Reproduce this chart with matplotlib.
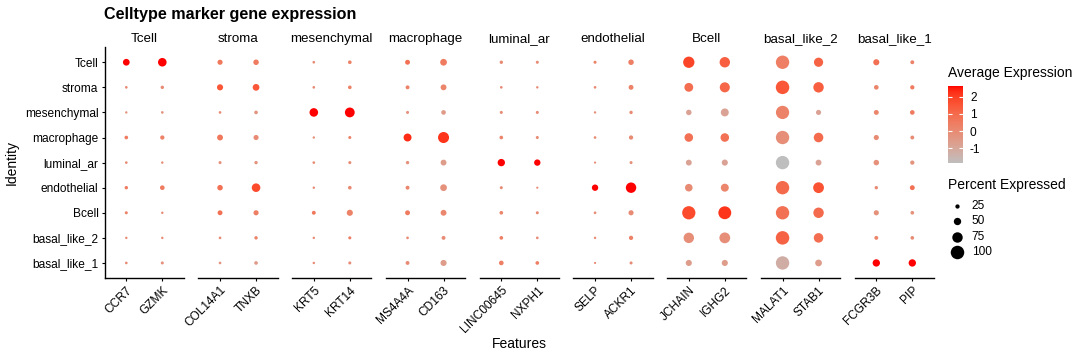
import numpy as np
import matplotlib
matplotlib.use("Agg")
import matplotlib.pyplot as plt
from matplotlib.colors import ListedColormap, Normalize
from matplotlib.cm import ScalarMappable

plt.rcParams['font.family'] = ['Liberation Sans', 'DejaVu Sans']
plt.rcParams['axes.unicode_minus'] = False

identities = ['Tcell', 'stroma', 'mesenchymal', 'macrophage', 'luminal_ar',
              'endothelial', 'Bcell', 'basal_like_2', 'basal_like_1']
groups = ['Tcell', 'stroma', 'mesenchymal', 'macrophage', 'luminal_ar',
          'endothelial', 'Bcell', 'basal_like_2', 'basal_like_1']
genes = ['CCR7', 'GZMK', 'COL14A1', 'TNXB', 'KRT5', 'KRT14', 'MS4A4A', 'CD163',
         'LINC00645', 'NXPH1', 'SELP', 'ACKR1', 'JCHAIN', 'IGHG2', 'MALAT1',
         'STAB1', 'FCGR3B', 'PIP']

# percent expressed, rows = identities, cols = genes
pct_exp = [
    [45, 60, 32, 35, 12, 20, 30, 45, 18, 15, 15, 35, 82, 75, 99, 65, 40, 22],
    [12, 18, 40, 45, 12, 20, 22, 38, 12, 10, 12, 30, 62, 72, 100, 75, 28, 25],
    [10, 12, 12, 20, 60, 70, 15, 28, 15, 15, 10, 18, 35, 55, 98, 32, 30, 28],
    [20, 25, 38, 32, 10, 15, 55, 80, 20, 15, 12, 25, 60, 60, 99, 68, 32, 22],
    [12, 10, 15, 18, 12, 15, 18, 38, 50, 42, 8, 15, 38, 40, 99, 38, 35, 25],
    [18, 28, 35, 60, 10, 20, 22, 45, 15, 8, 42, 75, 52, 55, 99, 78, 18, 30],
    [15, 10, 30, 32, 22, 40, 30, 38, 20, 15, 12, 32, 98, 95, 99, 75, 32, 20],
    [10, 10, 12, 18, 10, 15, 12, 22, 20, 12, 10, 25, 75, 78, 100, 68, 22, 20],
    [12, 15, 12, 20, 10, 15, 22, 40, 28, 20, 8, 15, 40, 40, 99, 45, 50, 50],
]

# scaled average expression
avg_exp = [
    [2.62, 2.62, 0.6, 0.5, 0.0, 0.3, 0.8, 0.5, 0.0, 0.0, 0.3, 0.4, 1.9, 1.3, 0.4, 1.2, 0.8, 0.3],
    [0.0, 0.0, 1.5, 1.5, 0.0, 0.3, 0.3, 0.2, 0.0, 0.0, 0.0, 0.3, 0.9, 1.1, 1.5, 1.3, 0.2, 0.5],
    [-0.3, -0.3, 0.0, -0.3, 2.62, 2.62, -0.2, -0.5, 0.0, 0.0, -0.2, 0.0, -0.8, -0.8, 0.3, -0.8, 0.2, 0.5],
    [0.5, 0.3, 0.6, 0.0, -0.2, 0.3, 2.3, 2.2, 0.2, 0.0, 0.0, 0.0, 0.8, 0.8, -0.1, 1.0, 0.0, 0.0],
    [0.0, 0.0, -0.2, -0.3, 0.0, 0.0, -0.2, -0.6, 2.62, 2.62, 0.0, -0.2, -0.8, -0.8, -1.84, -0.8, -0.2, -0.3],
    [0.5, 0.5, 0.8, 1.8, 0.0, 0.0, 0.2, -0.2, 0.0, 0.0, 2.62, 2.62, 0.0, 0.2, 1.0, 1.6, 0.0, 0.8],
    [0.3, 0.0, 0.8, 0.4, 0.6, 0.3, 0.5, 0.1, 0.2, 0.0, 0.0, 0.0, 1.8, 2.2, 0.8, 1.0, -0.2, -0.2],
    [0.0, 0.0, 0.0, 0.3, 0.0, 0.5, 0.0, 0.0, 0.4, 0.0, 0.0, 0.3, -0.1, -0.1, 1.2, 0.9, 0.2, 0.0],
    [0.0, -0.2, -0.3, -0.5, 0.0, 0.0, 0.0, -0.6, 0.4, 0.4, 0.0, 0.0, -0.6, -0.6, -1.2, -0.6, 2.62, 2.62],
]

size_breaks = [25, 50, 75, 100]
color_ticks = [-1, 0, 1, 2]

pct_exp = np.array(pct_exp, dtype=float)
avg_exp = np.array(avg_exp, dtype=float)

# --- grey -> red gradient interpolated in CIELAB, like ggplot ---
M = np.array([[0.4124564, 0.3575761, 0.1804375],
              [0.2126729, 0.7151522, 0.0721750],
              [0.0193339, 0.1191920, 0.9503041]])
WHITE = np.array([0.95047, 1.0, 1.08883])


def srgb2lab(c):
    c = np.asarray(c, float)
    lin = np.where(c <= 0.04045, c / 12.92, ((c + 0.055) / 1.055) ** 2.4)
    xyz = lin @ M.T / WHITE
    f = np.where(xyz > (6 / 29) ** 3, np.cbrt(xyz), xyz / (3 * (6 / 29) ** 2) + 4 / 29)
    return np.stack([116 * f[..., 1] - 16,
                     500 * (f[..., 0] - f[..., 1]),
                     200 * (f[..., 1] - f[..., 2])], -1)


def lab2srgb(lab):
    fy = (lab[..., 0] + 16) / 116
    f = np.stack([fy + lab[..., 1] / 500, fy, fy - lab[..., 2] / 200], -1)
    xyz = np.where(f > 6 / 29, f ** 3, 3 * (6 / 29) ** 2 * (f - 4 / 29)) * WHITE
    lin = np.clip(xyz @ np.linalg.inv(M).T, 0, 1)
    c = np.where(lin <= 0.0031308, 12.92 * lin, 1.055 * lin ** (1 / 2.4) - 0.055)
    return np.clip(c, 0, 1)


lo = srgb2lab(np.array([190, 190, 190]) / 255)
hi = srgb2lab(np.array([255, 0, 0]) / 255)
t = np.linspace(0, 1, 256)[:, None]
cmap = ListedColormap(lab2srgb(lo + t * (hi - lo)))
norm = Normalize(vmin=avg_exp.min(), vmax=avg_exp.max())


def dot_area(p):
    # diameter in px ~ radius scale on percent (+ small stroke); to points^2
    d_px = 1.2 + 0.123 * np.asarray(p)
    return (d_px * 0.72) ** 2


W, H = 1080, 360
fig = plt.figure(figsize=(W / 100, H / 100), dpi=100)


def px_axes(x0, y0, w, h):
    return fig.add_axes([x0 / W, 1 - (y0 + h) / H, w / W, h / H])


unit_x = 36.0
panel_w = 2.2 * unit_x
period = 93.75
left0 = 104.7
top, panel_h = 47.2, 230.8
fs = 8.6
ypos = np.arange(len(identities))

for k, grp in enumerate(groups):
    ax = px_axes(left0 + k * period, top, panel_w, panel_h)
    cols = [2 * k, 2 * k + 1]
    for j, c in enumerate(cols):
        ax.scatter(np.full(len(identities), j), ypos, s=dot_area(pct_exp[:, c]),
                   c=avg_exp[:, c], cmap=cmap, norm=norm, linewidths=0)
    ax.set_xlim(-0.6, 1.6)
    ax.set_ylim(len(identities) - 0.4, -0.6)
    for sp in ['top', 'right', 'left']:
        ax.spines[sp].set_visible(False)
    ax.spines['bottom'].set_linewidth(1.0)
    ax.set_xticks([0, 1])
    ax.set_xticklabels([genes[c] for c in cols], rotation=45, ha='right',
                       va='top', rotation_mode='anchor', fontsize=fs)
    ax.tick_params(axis='x', length=2.5, width=0.8, pad=2)
    if k == 0:
        ax.spines['left'].set_linewidth(1.0)
        ax.spines['left'].set_visible(True)
        ax.set_yticks(ypos)
        ax.set_yticklabels(identities, fontsize=fs)
        ax.tick_params(axis='y', length=2.5, width=0.8, pad=2)
    else:
        ax.set_yticks([])
    ax.text(0.5, 1 + 8 / panel_h, grp, transform=ax.transAxes, ha='center',
            va='center', fontsize=9.6)

fig.text(104 / W, 1 - 14 / H, 'Celltype marker gene expression', fontsize=11.6,
         fontweight='bold', ha='left', va='center')
fig.text(12 / W, 1 - (top + panel_h / 2) / H, 'Identity', rotation=90,
         fontsize=10, ha='center', va='center')
fig.text(519 / W, 1 - 344 / H, 'Features', fontsize=10, ha='center', va='center')

# colour legend
fig.text(948 / W, 1 - 73.3 / H, 'Average Expression', fontsize=10,
         ha='left', va='center')
cax = px_axes(948, 86, 15, 77)
cb = fig.colorbar(ScalarMappable(norm=norm, cmap=cmap), cax=cax)
cb.outline.set_visible(False)
cb.set_ticks(color_ticks)
cax.tick_params(direction='in', color='white', labelcolor='black', length=3,
                width=0.8, left=True, right=True, labelsize=fs, pad=5)

# size legend
fig.text(948 / W, 1 - 185 / H, 'Percent Expressed', fontsize=10,
         ha='left', va='center')
lax = fig.add_axes([0, 0, 1, 1])
lax.set_xlim(0, W)
lax.set_ylim(H, 0)
lax.axis('off')
for i, b in enumerate(size_breaks):
    yy = 205.7 + i * 15.5
    lax.scatter([956.7], [yy], s=dot_area(b), color='black', linewidths=0)
    lax.text(971.7, yy, str(b), fontsize=fs, ha='left', va='center')

fig.savefig('out.png', dpi=100)
